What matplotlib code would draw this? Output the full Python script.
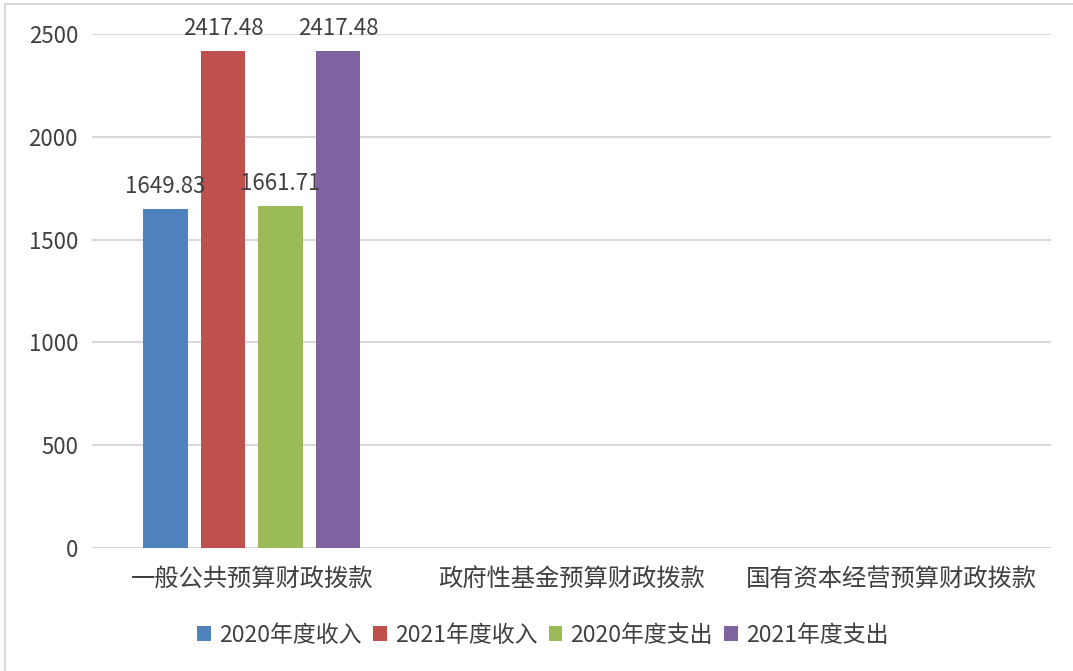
import numpy as np
import matplotlib
matplotlib.use("Agg")
import matplotlib.pyplot as plt
from matplotlib.lines import Line2D

plt.rcParams["font.family"] = ["Noto Sans CJK SC", "DejaVu Sans"]

categories = ["一般公共预算财政拨款", "政府性基金预算财政拨款", "国有资本经营预算财政拨款"]
series_names = ["2020年度收入", "2021年度收入", "2020年度支出", "2021年度支出"]
income_2020 = [1649.83, 0, 0]
income_2021 = [2417.48, 0, 0]
spend_2020 = [1661.71, 0, 0]
spend_2021 = [2417.48, 0, 0]
colors = ["#4f81bd", "#c0504d", "#9bbb59", "#8064a2"]
y_ticks = [0, 500, 1000, 1500, 2000, 2500]

text_color = "#404040"
grid_color = "#d9d9d9"

fig = plt.figure(figsize=(10.73, 6.71), dpi=100)
ax = fig.add_axes([0.0857, 0.1833, 0.8938, 0.766])

x = np.arange(len(categories))
width = 0.14
step = 0.18
all_series = [income_2020, income_2021, spend_2020, spend_2021]

handles = []
for i, (name, values) in enumerate(zip(series_names, all_series)):
    pos = x + (i - 1.5) * step
    bars = ax.bar(pos, values, width=width, color=colors[i], label=name, zorder=3)
    handles.append(bars)
    for rect, v in zip(bars, values):
        if v > 0:
            ax.annotate(f"{v:.2f}", (rect.get_x() + rect.get_width() / 2, v),
                        xytext=(0, 8), textcoords="offset points",
                        ha="center", va="bottom", fontsize=16, color=text_color,
                        zorder=5, annotation_clip=False)

ax.set_xlim(-0.5, 2.5)
ax.set_ylim(0, 2500)
ax.set_yticks(y_ticks)
ax.set_xticks(x)
ax.set_xticklabels(categories, fontsize=17.5, color=text_color)
ax.tick_params(axis="y", labelsize=16, labelcolor=text_color, length=0, pad=10)
ax.tick_params(axis="x", length=0, pad=13)
ax.yaxis.grid(True, color=grid_color, linewidth=1.5, zorder=0)
ax.set_axisbelow(True)
for side in ["top", "right", "left", "bottom"]:
    ax.spines[side].set_visible(False)
ax.axhline(0, color=grid_color, linewidth=1.5, zorder=1)

fig.legend(handles=handles, labels=series_names, loc="center",
           bbox_to_anchor=(543 / 1073, 1 - 635 / 671), ncol=4, frameon=False,
           fontsize=16.5, handlelength=0.6, handleheight=0.6, handletextpad=0.35,
           columnspacing=0.5, labelcolor=text_color)

# light outer border of the chart area
fig.add_artist(Line2D([5 / 1073, 1], [1 - 4 / 671, 1 - 4 / 671], color=grid_color, linewidth=1.5))
fig.add_artist(Line2D([5 / 1073, 5 / 1073], [0, 1 - 4 / 671], color=grid_color, linewidth=1.5))

fig.savefig("out.png", dpi=100)
